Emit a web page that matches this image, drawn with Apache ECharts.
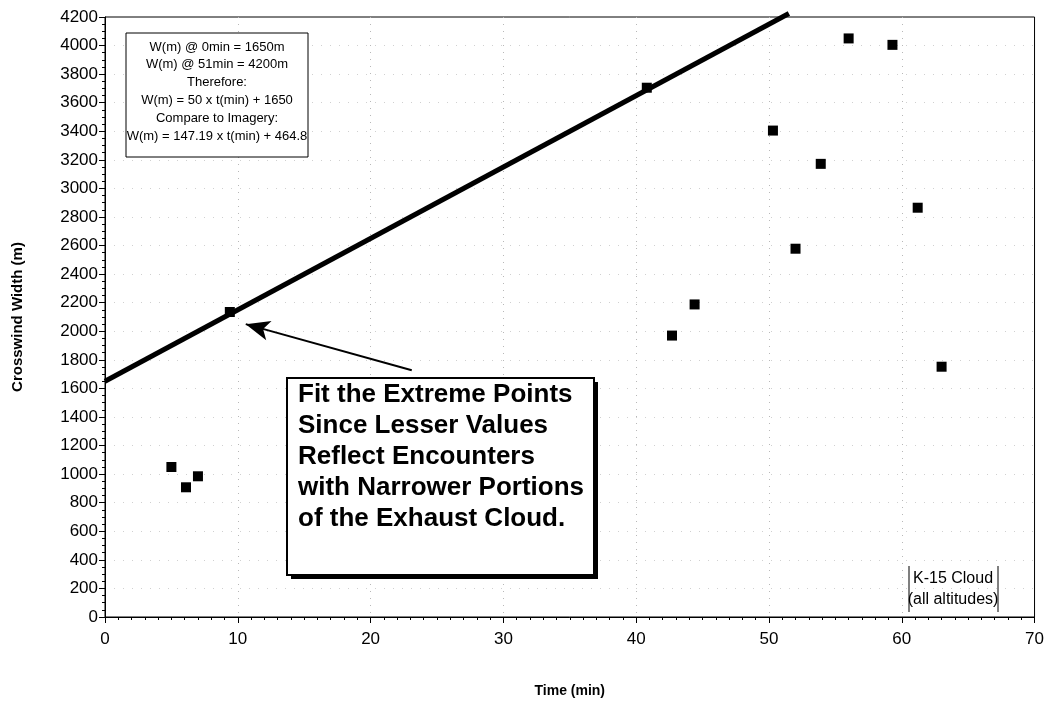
<!DOCTYPE html>
<html>
<head>
<meta charset="utf-8">
<script src="https://cdn.jsdelivr.net/npm/echarts@6/dist/echarts.min.js"></script>
<style>
  html, body { margin: 0; padding: 0; background: #fff; }
  #chart { width: 1047px; height: 704px; }
</style>
</head>
<body>
<div id="chart"></div>
<script>
// Measured crosswind widths of the K-15 exhaust cloud
const timeMin = [5.0, 6.1, 7.0, 9.4, 40.8, 42.7, 44.4, 50.3, 52.0, 53.9, 56.0, 59.3, 61.2, 63.0];
const widthM  = [1050, 908, 985, 2135, 3705, 1970, 2188, 3405, 2578, 3172, 4050, 4005, 2865, 1752];

// Line through the extreme points: W = 50 t + 1650
const fitSlope = 50;
const fitIntercept = 1650;
const fitRange = [0, 51.5];

// Annotation arrow (tail -> head) in data coordinates
const arrowFrom = [23.1, 1727];
const arrowTo = [10.6, 2050];

const infoLines = [
  'W(m) @ 0min = 1650m',
  'W(m) @ 51min = 4200m',
  'Therefore:',
  'W(m) = 50 x t(min) + 1650',
  'Compare to Imagery:',
  'W(m) = 147.19 x t(min) + 464.8'
];
const calloutLines = [
  'Fit the Extreme Points',
  'Since Lesser Values',
  'Reflect Encounters',
  'with Narrower Portions',
  'of the Exhaust Cloud.'
];
const seriesLabel = ['K-15 Cloud', '(all altitudes)'];

const FONT = '"Liberation Sans", Arial, Helvetica, sans-serif';

const points = timeMin.map((t, i) => [t, widthM[i]]);
const fitLine = fitRange.map(t => [t, fitSlope * t + fitIntercept]);

const chart = echarts.init(document.getElementById('chart'), null, { renderer: 'canvas' });

chart.setOption({
  backgroundColor: '#fff',
  animation: false,
  textStyle: { fontFamily: FONT },
  grid: {
    left: 105, right: 11, top: 17, bottom: 87,
    show: true, borderColor: '#000', borderWidth: 1
  },
  xAxis: {
    type: 'value', min: 0, max: 70, interval: 10,
    name: 'Time (min)', nameLocation: 'middle', nameGap: 67,
    nameTextStyle: { fontFamily: FONT, fontSize: 14, fontWeight: 'bold', color: '#000' },
    axisLine: { lineStyle: { color: '#000', width: 1 } },
    axisTick: { show: true, length: 6, lineStyle: { color: '#000' } },
    minorTick: { show: true, splitNumber: 10, length: 3, lineStyle: { color: '#000' } },
    axisLabel: { fontFamily: FONT, fontSize: 17, color: '#000', margin: 14 },
    splitLine: {
      show: true, showMinLine: false, showMaxLine: false,
      lineStyle: { color: '#b8b8b8', type: [1, 6], width: 1 }
    }
  },
  yAxis: {
    type: 'value', min: 0, max: 4200, interval: 200,
    name: 'Crosswind Width (m)', nameLocation: 'middle', nameGap: 80,
    nameTextStyle: { fontFamily: FONT, fontSize: 15, fontWeight: 'bold', color: '#000' },
    axisLine: { show: true, lineStyle: { color: '#000', width: 1 } },
    axisTick: { show: true, length: 6, lineStyle: { color: '#000' } },
    minorTick: { show: true, splitNumber: 4, length: 3, lineStyle: { color: '#000' } },
    axisLabel: { fontFamily: FONT, fontSize: 17, color: '#000', margin: 7, formatter: v => String(v) },
    splitLine: {
      show: true, showMinLine: false, showMaxLine: false,
      lineStyle: { color: '#d0d0d0', type: [1, 8], width: 1 }
    }
  },
  series: [
    {
      type: 'line',
      data: fitLine,
      symbol: 'none',
      clip: false,
      lineStyle: { color: '#000', width: 5 },
      z: 3
    },
    {
      type: 'scatter',
      data: points,
      symbol: 'rect',
      symbolSize: 10,
      itemStyle: { color: '#000', opacity: 1 },
      z: 4,
      markLine: {
        silent: true,
        symbol: ['none', 'arrow'],
        symbolSize: [15, 24],
        label: { show: false },
        lineStyle: { color: '#000', width: 2, type: 'solid' },
        data: [[{ coord: arrowFrom }, { coord: arrowTo }]]
      }
    }
  ],
  graphic: [
    // equation box
    {
      type: 'rect', shape: { x: 126, y: 33, width: 182, height: 124 },
      style: { fill: '#fff', stroke: '#000', lineWidth: 1 }, z: 10
    },
    ...infoLines.map((s, i) => ({
      type: 'text', x: 217, y: 47 + i * 17.8,
      style: { text: s, fontFamily: FONT, fontSize: 13, fill: '#000', align: 'center', verticalAlign: 'middle' },
      z: 11
    })),
    // callout box with drop shadow
    {
      type: 'rect', shape: { x: 291, y: 382, width: 307, height: 197 },
      style: { fill: '#000' }, z: 10
    },
    {
      type: 'rect', shape: { x: 287, y: 378, width: 307, height: 197 },
      style: { fill: '#fff', stroke: '#000', lineWidth: 2 }, z: 11
    },
    ...calloutLines.map((s, i) => ({
      type: 'text', x: 298, y: 395 + i * 31,
      style: { text: s, fontFamily: FONT, fontSize: 26, fontWeight: 'bold', fill: '#000', align: 'left', verticalAlign: 'middle' },
      z: 12
    })),
    // series label with side bars
    {
      type: 'line', shape: { x1: 909, y1: 566, x2: 909, y2: 612 },
      style: { stroke: '#000', lineWidth: 1 }, z: 10
    },
    {
      type: 'line', shape: { x1: 998, y1: 566, x2: 998, y2: 612 },
      style: { stroke: '#000', lineWidth: 1 }, z: 10
    },
    ...seriesLabel.map((s, i) => ({
      type: 'text', x: 953, y: 579 + i * 21,
      style: { text: s, fontFamily: FONT, fontSize: 16, fill: '#000', align: 'center', verticalAlign: 'middle' },
      z: 11
    }))
  ]
});
</script>
</body>
</html>
